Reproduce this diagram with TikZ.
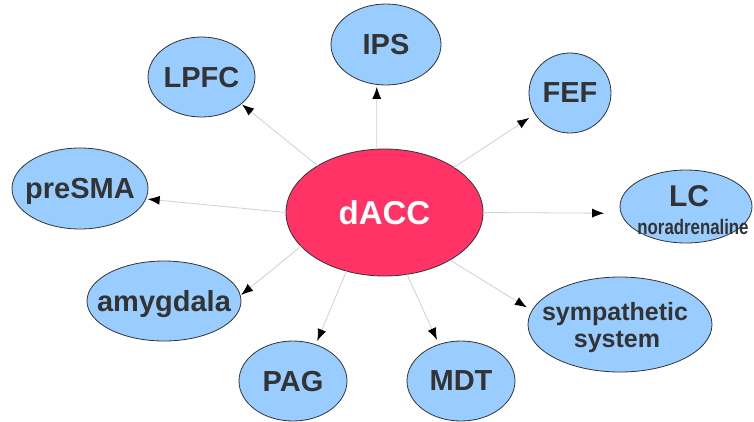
\documentclass[tikz,border=0pt]{standalone}
\usepackage{fontspec}
\usepackage{graphicx}
\setmainfont{Liberation Sans}
\usetikzlibrary{arrows.meta,shapes.geometric}
\definecolor{bub}{HTML}{99CCFF}
\definecolor{hub}{HTML}{FF3366}
\definecolor{ink}{HTML}{333333}
\definecolor{edgegray}{HTML}{D0D0D0}
\tikzset{
  bubble/.style={ellipse, draw=ink, line width=0.8pt, fill=bub, inner sep=0pt, outer sep=0pt},
  lbl/.style={text=ink, font=\bfseries\fontsize{29}{31}\selectfont, inner sep=0pt, text depth=0pt},
  link/.style={draw=edgegray, line width=0.8pt, -{Latex[length=12pt,width=9pt,color=black]}},
}
\begin{document}
\begin{tikzpicture}[x=1pt,y=-1pt]
\useasboundingbox (0,0) rectangle (754,421);
% ellipses
\node[bubble, fill=hub, minimum width=197pt, minimum height=127pt] (dACC) at (384.5,212.5) {};
\node[bubble, minimum width=110pt, minimum height=81pt] (IPS) at (386,44.5) {};
\node[bubble, minimum width=107pt, minimum height=80pt] (LPFC) at (201.5,77) {};
\node[bubble, minimum width=82pt, minimum height=80pt] (FEF) at (570,93) {};
\node[bubble, minimum width=136pt, minimum height=81pt] (preSMA) at (80,188.5) {};
\node[bubble, minimum width=132pt, minimum height=73pt] (LC) at (686,206.5) {};
\node[bubble, minimum width=154pt, minimum height=80pt] (amygdala) at (164,301) {};
\node[bubble, minimum width=108pt, minimum height=80pt] (PAG) at (293,381) {};
\node[bubble, minimum width=108pt, minimum height=80pt] (MDT) at (461,381) {};
\node[bubble, minimum width=184pt, minimum height=95pt] (symp) at (620,324.5) {};
% labels
\node[lbl, text=white, font=\bfseries\fontsize{33}{35}\selectfont] (tdACC) at (dACC) {dACC};
\node[lbl] (tIPS) at (IPS) {IPS};
\node[lbl] (tLPFC) at (LPFC) {LPFC};
\node[lbl] (tFEF) at (FEF) {FEF};
\node[lbl] (tpreSMA) at (preSMA) {preSMA};
\node[lbl] (tamygdala) at (amygdala) {amygdala};
\node[lbl] (tPAG) at (PAG) {PAG};
\node[lbl] (tMDT) at (MDT) {MDT};
\node[lbl, anchor=base, font=\bfseries\fontsize{30}{32}\selectfont] (tLC) at (689,206.7) {LC};
\node[lbl, anchor=base, font=\bfseries\fontsize{21}{23}\selectfont] (tnor) at (693,234) {\scalebox{0.8}[1]{noradrenaline}};
\node[lbl, anchor=base, font=\bfseries\fontsize{25}{27}\selectfont] (tsymp1) at (615,320) {sympathetic};
\node[lbl, anchor=base, font=\bfseries\fontsize{25}{27}\selectfont] (tsymp2) at (617,347) {system};
% connectors
\draw[link, shorten >=2.5pt] (dACC.97) -- (IPS.257);
\draw[link, shorten >=1pt] (dACC.145) -- (LPFC.326);
\draw[link, shorten >=7pt] (dACC.33) -- (FEF.211);
\draw[link, shorten >=17pt] (dACC.0) -- (LC.186);
\draw[link, shorten >=6pt] (dACC.324) -- (symp.171);
\draw[link, shorten >=5pt] (dACC.290) -- (MDT.121);
\draw[link, shorten >=4pt] (dACC.237) -- (PAG.58);
\draw[link, shorten >=1pt] (dACC.202) -- (amygdala.4);
\draw[link, shorten >=2pt] (dACC.180) -- (preSMA.351);
\end{tikzpicture}
\end{document}
